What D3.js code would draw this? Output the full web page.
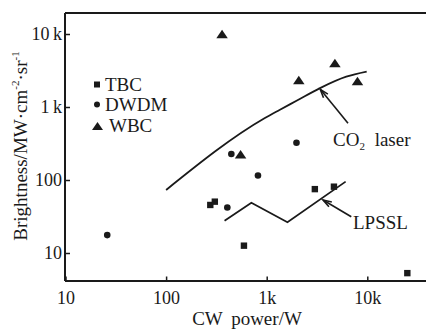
<!DOCTYPE html>
<html>
<head>
<meta charset="utf-8">
<script src="https://cdn.jsdelivr.net/npm/d3@7"></script>
<style>
  html, body { margin: 0; padding: 0; background: #fff; }
  svg { display: block; }
  text { font-family: "Liberation Serif", "Times New Roman", serif; fill: #1a1a1a; }
</style>
</head>
<body>
<svg id="chart" width="426" height="329"></svg>
<script>
// Brightness vs CW power for several laser combining schemes (log-log)
const xTicks = [10, 100, 1000, 10000];
const xTickLabels = ["10", "100", "1k", "10k"];
const yTicks = [10, 100, 1000, 10000];
const yTickLabels = ["10", "100", "1\u2009k", "10\u2009k"];

const tbcPower = [275, 305, 594, 3010, 4660, 25000];
const tbcBrightness = [45.5, 50.5, 12.6, 75, 81, 5.3];

const dwdmPower = [26, 406, 445, 819, 1977];
const dwdmBrightness = [17.6, 42, 227, 115, 324];

const wbcPower = [360, 550, 2085, 4765, 7985];
const wbcBrightness = [10000, 225, 2345, 4010, 2270];

const co2Power = [100, 950, 1340, 2000, 3350, 6180, 9860];
const co2Brightness = [73, 700, 910, 1225, 1800, 2600, 3050];

const lpsslPower = [381, 704, 1608, 6090];
const lpsslBrightness = [27.7, 48.9, 26.4, 95];

// annotation anchors (data units): arrow tail -> head, label anchor
const co2Arrow = [[6430, 598], [3410, 1745]];
const co2LabelAt = [4560, 295];
const lpsslArrow = [[6930, 31.4], [3630, 53.2]];
const lpsslLabelAt = [7210, 21.3];

const legendItems = ["TBC", "DWDM", "WBC"];

const svg = d3.select("#chart");
const ink = "#1a1a1a";

const plotLeft = 65, plotRight = 426, plotTop = 13, plotBottom = 281;

const x = d3.scaleLog().domain([10, 10000]).range([65.5, 367.3]);
const y = d3.scaleLog().domain([10, 10000]).range([253, 34]);

// frame: left, top and bottom lines
svg.append("line").attr("x1", plotLeft).attr("x2", plotLeft)
  .attr("y1", plotTop).attr("y2", plotBottom)
  .attr("stroke", ink).attr("stroke-width", 2);
svg.append("line").attr("x1", plotLeft).attr("x2", plotRight)
  .attr("y1", plotTop).attr("y2", plotTop)
  .attr("stroke", ink).attr("stroke-width", 2);

// x axis with inward ticks
const xAxis = d3.axisBottom(x).tickValues(xTicks)
  .tickFormat((d, i) => xTickLabels[i]).tickSizeInner(-4.5).tickSizeOuter(0).tickPadding(10);
const gx = svg.append("g").attr("transform", `translate(0,${plotBottom})`).call(xAxis);
gx.select(".domain").remove();
gx.append("line").attr("x1", plotLeft).attr("x2", plotRight)
  .attr("stroke", ink).attr("stroke-width", 2);
gx.selectAll(".tick line").attr("stroke", ink).attr("stroke-width", 1.5);
gx.selectAll(".tick text").attr("font-size", 18).attr("fill", ink)
  .style("font-family", "Liberation Serif, serif");

// y axis with inward ticks
const yAxis = d3.axisLeft(y).tickValues(yTicks)
  .tickFormat((d, i) => yTickLabels[i]).tickSizeInner(-5).tickSizeOuter(0).tickPadding(3);
const gy = svg.append("g").attr("transform", `translate(${plotLeft},0)`).call(yAxis);
gy.select(".domain").remove();
gy.selectAll(".tick line").attr("stroke", ink).attr("stroke-width", 1.5);
gy.selectAll(".tick text").attr("font-size", 18).attr("fill", ink)
  .style("font-family", "Liberation Serif, serif");

// axis titles
svg.append("text").attr("x", 247).attr("y", 324.5).attr("text-anchor", "middle")
  .attr("font-size", 19).attr("word-spacing", 4).text("CW power/W");

const yTitle = svg.append("text")
  .attr("transform", "translate(27,146) rotate(-90)")
  .attr("text-anchor", "middle").attr("font-size", 19);
yTitle.append("tspan").text("Brightness/MW\u00b7cm");
yTitle.append("tspan").attr("font-size", 11).attr("dy", -8).text("-2");
yTitle.append("tspan").attr("dy", 8).text("\u00b7sr");
yTitle.append("tspan").attr("font-size", 11).attr("dy", -8).text("-1");

// reference curves
const lineGen = d3.line().x(d => x(d[0])).y(d => y(d[1])).curve(d3.curveMonotoneX);
const co2 = co2Power.map((p, i) => [p, co2Brightness[i]]);
const lpssl = lpsslPower.map((p, i) => [p, lpsslBrightness[i]]);

svg.append("path").datum(co2).attr("d", lineGen)
  .attr("fill", "none").attr("stroke", ink).attr("stroke-width", 1.8);
svg.append("path").datum(lpssl)
  .attr("d", d3.line().x(d => x(d[0])).y(d => y(d[1])))
  .attr("fill", "none").attr("stroke", ink).attr("stroke-width", 1.8)
  .attr("stroke-linejoin", "miter");

// markers
function trianglePath(w, h) {
  return `M0,${-h / 2}L${w / 2},${h / 2}L${-w / 2},${h / 2}Z`;
}

svg.append("g").selectAll("rect")
  .data(tbcPower.map((p, i) => [p, tbcBrightness[i]]))
  .join("rect")
  .attr("x", d => x(d[0]) - 3.2).attr("y", d => y(d[1]) - 3.2)
  .attr("width", 6.4).attr("height", 6.4).attr("fill", ink);

svg.append("g").selectAll("circle")
  .data(dwdmPower.map((p, i) => [p, dwdmBrightness[i]]))
  .join("circle")
  .attr("cx", d => x(d[0])).attr("cy", d => y(d[1])).attr("r", 3.3).attr("fill", ink);

svg.append("g").selectAll("path")
  .data(wbcPower.map((p, i) => [p, wbcBrightness[i]]))
  .join("path")
  .attr("transform", d => `translate(${x(d[0])},${y(d[1])})`)
  .attr("d", trianglePath(11.5, 8.5)).attr("fill", ink);

// arrows
function drawArrow(pts) {
  const [t, h] = pts.map(d => [x(d[0]), y(d[1])]);
  svg.append("line").attr("x1", t[0]).attr("y1", t[1]).attr("x2", h[0]).attr("y2", h[1])
    .attr("stroke", ink).attr("stroke-width", 1.6);
  const ang = Math.atan2(h[1] - t[1], h[0] - t[0]);
  const len = 9, spread = 0.32;
  const a1 = [h[0] - len * Math.cos(ang - spread), h[1] - len * Math.sin(ang - spread)];
  const a2 = [h[0] - len * Math.cos(ang + spread), h[1] - len * Math.sin(ang + spread)];
  svg.append("path").attr("d", `M${a1}L${h}L${a2}`)
    .attr("fill", "none").attr("stroke", ink).attr("stroke-width", 1.6);
}
drawArrow(co2Arrow);
drawArrow(lpsslArrow);

// curve labels
const co2Label = svg.append("text").attr("x", x(co2LabelAt[0])).attr("y", y(co2LabelAt[1]))
  .attr("font-size", 19).attr("word-spacing", 5);
co2Label.append("tspan").text("CO");
co2Label.append("tspan").attr("font-size", 11).attr("dy", 4).text("2");
co2Label.append("tspan").attr("dy", -4).text(" laser");

svg.append("text").attr("x", x(lpsslLabelAt[0])).attr("y", y(lpsslLabelAt[1]))
  .attr("font-size", 19).text("LPSSL");

// legend
const legend = svg.append("g");
const legendRows = [88, 108, 129];
legend.append("rect").attr("x", 94).attr("y", legendRows[0] - 3.5 - 3)
  .attr("width", 6).attr("height", 6).attr("fill", ink);
legend.append("circle").attr("cx", 97).attr("cy", legendRows[1] - 3.5).attr("r", 3).attr("fill", ink);
legend.append("path").attr("transform", `translate(97.5,${legendRows[2] - 3})`)
  .attr("d", trianglePath(11, 8)).attr("fill", ink);
legend.selectAll("text").data(legendItems).join("text")
  .attr("x", (d, i) => i === 2 ? 109 : 105)
  .attr("y", (d, i) => legendRows[i] + 3)
  .attr("font-size", 19).text(d => d);
</script>
</body>
</html>
